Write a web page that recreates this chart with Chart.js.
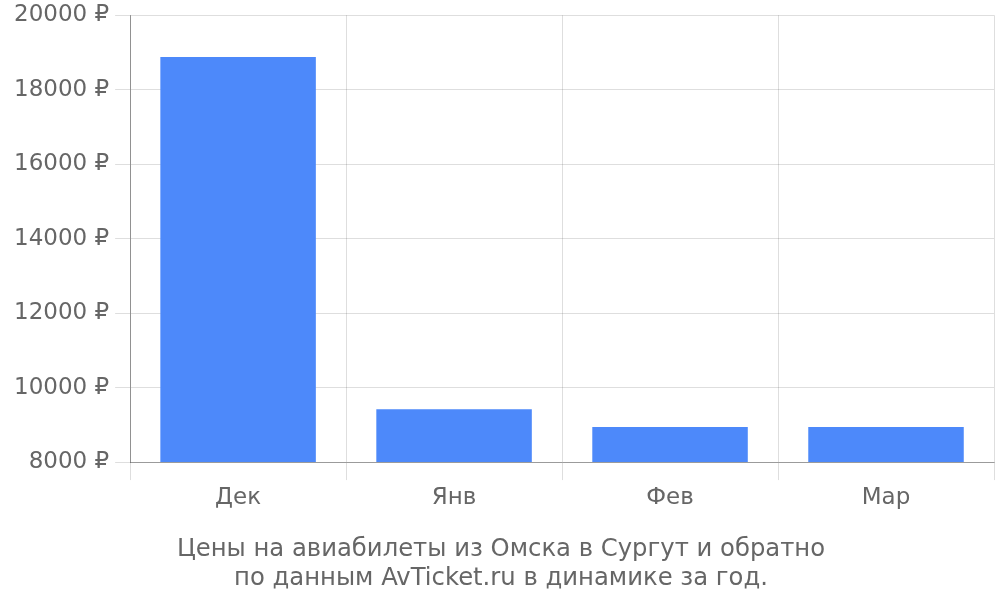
<!DOCTYPE html>
<html><head><meta charset="utf-8">
<script src="https://cdn.jsdelivr.net/npm/chart.js@4/dist/chart.umd.min.js"></script>
<style>html,body{margin:0;padding:0;background:#fff}#w{width:1000px;height:600px}</style>
</head><body><div id="w"><canvas id="c"></canvas></div>
<script>
const categories = ["Дек", "Янв", "Фев", "Мар"];
const prices = [18880, 9420, 8940, 8940];
const yTicks = [8000, 10000, 12000, 14000, 16000, 18000, 20000];
const titleLines = ["Цены на авиабилеты из Омска в Сургут и обратно", "по данным AvTicket.ru в динамике за год."];

Chart.defaults.font.family = "'DejaVu Sans', sans-serif";
Chart.defaults.color = "#666";
new Chart(document.getElementById('c'), {
  type: 'bar',
  data: { labels: categories, datasets: [{ data: prices, backgroundColor: '#4d89fa', borderWidth: 0 }] },
  options: {
    responsive: true, maintainAspectRatio: false, animation: false,
    layout: { padding: { left: 8, right: 6, top: 0, bottom: 7 } },
    plugins: {
      legend: { display: false }, tooltip: { enabled: false },
      title: { display: true, position: 'bottom', text: titleLines, color: '#666', font: { size: 24.3, weight: 'normal' }, padding: { top: 19, bottom: 0 }, lineHeight: 1.15 }
    },
    scales: {
      x: {
        grid: { color: 'rgba(0,0,0,0.13)', tickLength: 18, offset: true },
        border: { color: 'rgba(0,0,0,0.3)' },
        ticks: { font: { size: 23 }, color: '#666', padding: 4 }
      },
      y: {
        min: 8000, max: 20000,
        afterBuildTicks: (ax) => { ax.ticks = yTicks.map(v => ({ value: v })); },
        grid: { color: 'rgba(0,0,0,0.13)', tickLength: 15 },
        border: { color: 'rgba(0,0,0,0.35)' },
        ticks: { font: { size: 23, lineHeight: 0.8 }, color: '#666', padding: 6, callback: v => v + ' ₽' }
      }
    }
  }
});
</script></body></html>
